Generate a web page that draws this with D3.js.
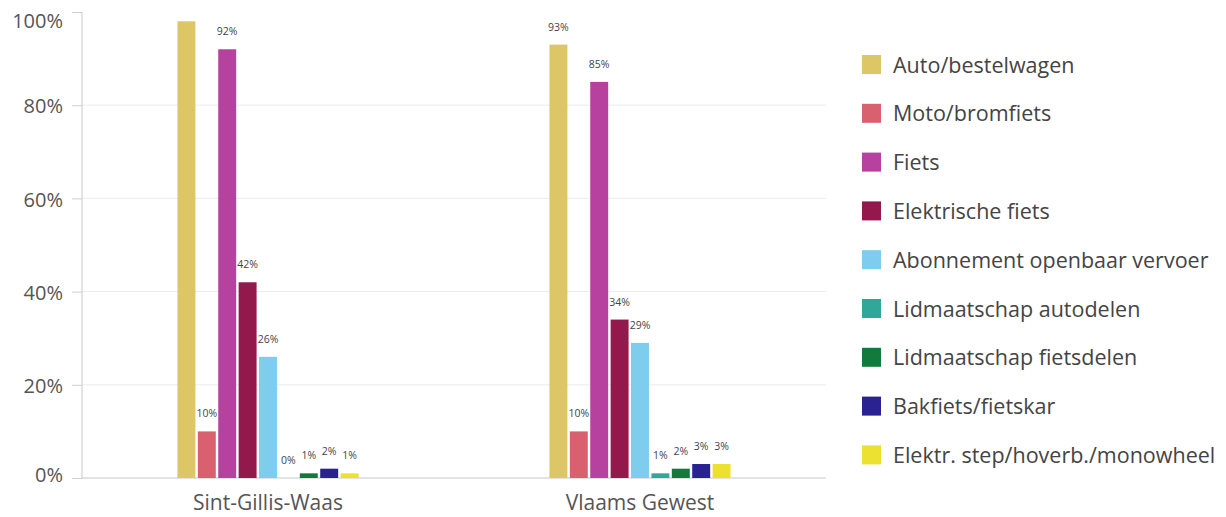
<!DOCTYPE html>
<html>
<head>
<meta charset="utf-8">
<script src="https://cdn.jsdelivr.net/npm/d3@7"></script>
<style>
  html, body { margin: 0; padding: 0; background: #fff; }
  svg { display: block; font-family: "Open Sans", "Noto Sans", sans-serif; }
</style>
</head>
<body>
<svg id="chart" width="1226" height="517"></svg>
<script>
const categories = ["Sint-Gillis-Waas", "Vlaams Gewest"];
const seriesNames = [
  "Auto/bestelwagen",
  "Moto/bromfiets",
  "Fiets",
  "Elektrische fiets",
  "Abonnement openbaar vervoer",
  "Lidmaatschap autodelen",
  "Lidmaatschap fietsdelen",
  "Bakfiets/fietskar",
  "Elektr. step/hoverb./monowheel"
];
const seriesColors = ["#dcc665", "#d8606f", "#b6419f", "#93194c", "#7ecdee", "#2fa89a", "#127a3c", "#2a2290", "#ece131"];
const sintGillisWaas = [98, 10, 92, 42, 26, 0, 1, 2, 1];
const vlaamsGewest = [93, 10, 85, 34, 29, 1, 2, 3, 3];
const yTicks = [0, 20, 40, 60, 80, 100];

const groupValues = [sintGillisWaas, vlaamsGewest];

const svg = d3.select("#chart");
const mLeft = 82, mRight = 826, mTop = 12, mBottom = 478;

const y = d3.scaleLinear().domain([0, 100]).range([mBottom, mTop]);
const x0 = d3.scaleBand().domain(categories).range([mLeft, mRight]).paddingInner(0.5).paddingOuter(0.25);
const x1 = d3.scaleBand().domain(seriesNames).range([0, x0.bandwidth()]).padding(0.12);

// gridlines
svg.append("g").selectAll("line").data(yTicks.filter(t => t > 0 && t < 100)).join("line")
  .attr("x1", mLeft).attr("x2", mRight)
  .attr("y1", d => y(d)).attr("y2", d => y(d))
  .attr("stroke", "#ececec").attr("stroke-width", 1);

// y axis
const yAxis = d3.axisLeft(y).tickValues(yTicks).tickFormat(d => d + "%").tickSize(10).tickPadding(9);
const ya = svg.append("g").attr("transform", `translate(${mLeft},0)`).call(yAxis);
ya.select(".domain").attr("stroke", "#c8c8c8").attr("d", `M0,${mTop}V${mBottom}`);
ya.selectAll(".tick line").attr("stroke", "#cfcfcf");
ya.selectAll(".tick text").attr("fill", "#555").attr("font-size", 20).attr("font-family", "'Open Sans', sans-serif")
  .attr("dy", d => d === 100 ? "0.78em" : (d === 0 ? "0.15em" : "0.38em"));

// baseline
svg.append("line").attr("x1", mLeft).attr("x2", mRight).attr("y1", mBottom).attr("y2", mBottom)
  .attr("stroke", "#c8c8c8").attr("stroke-width", 1.2);

// bars
const groups = svg.append("g").selectAll("g").data(categories).join("g")
  .attr("transform", d => `translate(${x0(d)},0)`);

groups.each(function(cat, gi) {
  const vals = groupValues[gi];
  const g = d3.select(this);
  const data = seriesNames.map((s, i) => ({ s, i, v: vals[i] }));
  g.selectAll("rect").data(data).join("rect")
    .attr("x", d => x1(d.s))
    .attr("y", d => y(d.v))
    .attr("width", x1.bandwidth())
    .attr("height", d => y(0) - y(d.v))
    .attr("fill", d => seriesColors[d.i]);
  g.selectAll("text").data(data.filter(d => y(d.v) - 14 > mTop + 10)).join("text")
    .attr("x", d => x1(d.s) + x1.bandwidth() / 2)
    .attr("y", d => y(d.v) - 14)
    .attr("text-anchor", "middle")
    .attr("font-size", 10.5)
    .attr("fill", "#444")
    .text(d => d.v + "%");
});

// category labels
svg.append("g").selectAll("text").data(categories).join("text")
  .attr("x", d => x0(d) + x0.bandwidth() / 2)
  .attr("y", 510)
  .attr("text-anchor", "middle")
  .attr("font-size", 21)
  .attr("fill", "#555")
  .text(d => d);

// legend
const legend = svg.append("g").selectAll("g").data(seriesNames).join("g")
  .attr("transform", (d, i) => `translate(862,${65 + i * 48.8})`);
legend.append("rect").attr("x", 0).attr("y", -10).attr("width", 19).attr("height", 19)
  .attr("fill", (d, i) => seriesColors[i]);
legend.append("text").attr("x", 31).attr("y", 0).attr("dy", "0.35em")
  .attr("font-size", 21.5).attr("fill", "#444").text(d => d);
</script>
</body>
</html>
